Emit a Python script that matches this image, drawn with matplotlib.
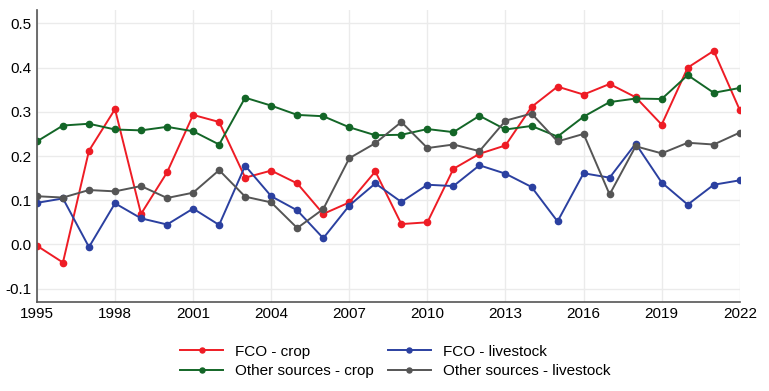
import matplotlib.pyplot as plt

plt.rcParams['font.family'] = ['Liberation Sans', 'DejaVu Sans']

# Years on the x axis
years = list(range(1995, 2023))

# Series values
fco_crop = [-0.003, -0.041, 0.212, 0.306, 0.069, 0.163, 0.293, 0.277, 0.151, 0.167,
            0.138, 0.069, 0.095, 0.165, 0.046, 0.050, 0.171, 0.205, 0.224, 0.311,
            0.357, 0.339, 0.363, 0.333, 0.271, 0.400, 0.438, 0.304]
other_crop = [0.233, 0.269, 0.273, 0.260, 0.258, 0.266, 0.256, 0.226, 0.332, 0.314,
              0.293, 0.290, 0.265, 0.247, 0.248, 0.261, 0.254, 0.291, 0.260, 0.268,
              0.244, 0.289, 0.322, 0.330, 0.329, 0.383, 0.343, 0.354]
fco_livestock = [0.094, 0.104, -0.006, 0.093, 0.059, 0.045, 0.081, 0.044, 0.178, 0.109,
                 0.077, 0.014, 0.088, 0.138, 0.096, 0.135, 0.132, 0.179, 0.160, 0.130,
                 0.052, 0.161, 0.151, 0.228, 0.140, 0.090, 0.135, 0.145]
other_livestock = [0.109, 0.106, 0.123, 0.120, 0.132, 0.105, 0.117, 0.168, 0.108, 0.095,
                   0.037, 0.080, 0.195, 0.229, 0.277, 0.218, 0.226, 0.211, 0.280, 0.296,
                   0.233, 0.250, 0.113, 0.222, 0.206, 0.230, 0.226, 0.253]

x_ticks = [1995, 1998, 2001, 2004, 2007, 2010, 2013, 2016, 2019, 2022]
y_ticks = [-0.1, 0.0, 0.1, 0.2, 0.3, 0.4, 0.5]

fig = plt.figure(figsize=(7.69, 3.91), dpi=100)
ax = fig.add_axes([0.048, 0.228, 0.914, 0.746])

style = dict(marker='o', markersize=4.5, linewidth=1.4)
# order so that ncol=2 legend fills rows like the reference
ax.plot(years, fco_crop, color='#ee1c25', label='FCO - crop', **style)
ax.plot(years, other_crop, color='#136627', label='Other sources - crop', **style)
ax.plot(years, fco_livestock, color='#2b40a0', label='FCO - livestock', **style)
ax.plot(years, other_livestock, color='#555555', label='Other sources - livestock', **style)

ax.set_xlim(1995, 2022)
ax.set_ylim(-0.13, 0.53)
ax.set_xticks(x_ticks)
ax.set_yticks(y_ticks)
ax.set_yticklabels([f'{v:.1f}' for v in y_ticks])
ax.tick_params(length=0, labelsize=11, pad=4)
ax.grid(True, color='#ebebeb', linewidth=1)
ax.set_axisbelow(True)

for side in ['top', 'right']:
    ax.spines[side].set_visible(False)
for side in ['left', 'bottom']:
    ax.spines[side].set_color('#555555')
    ax.spines[side].set_linewidth(1.2)

ax.legend(loc='upper center', bbox_to_anchor=(0.51, -0.1), ncol=2, frameon=False,
          fontsize=11, handlelength=2.8, markerscale=0.8, columnspacing=0.9,
          labelspacing=0.35, handletextpad=0.8)

plt.savefig('out.png', dpi=100)
